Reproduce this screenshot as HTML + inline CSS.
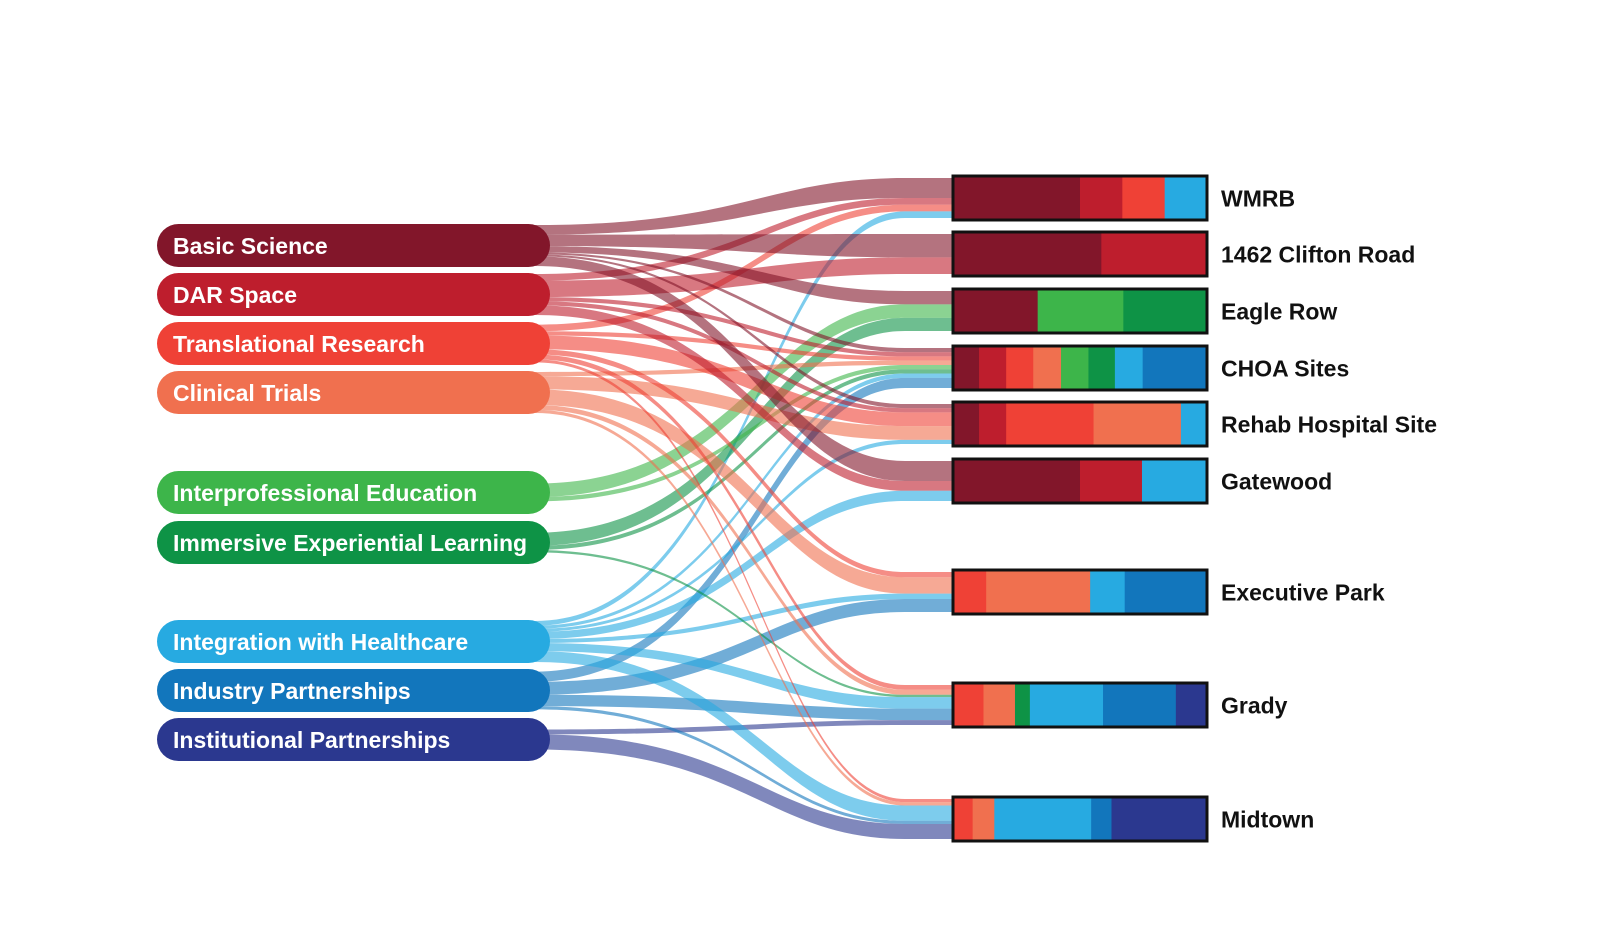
<!DOCTYPE html>
<html><head><meta charset="utf-8"><style>
html,body{margin:0;padding:0;background:#fff;}
svg{display:block;}
text{font-family:"Liberation Sans",sans-serif;font-weight:bold;}
</style></head><body>
<svg id="s" width="1600" height="938" viewBox="0 0 1600 938" xmlns="http://www.w3.org/2000/svg"></svg>
<script>
const NS="http://www.w3.org/2000/svg";
const svg=document.getElementById('s');
function el(t,a,txt){const e=document.createElementNS(NS,t);for(const k in a)e.setAttribute(k,a[k]);if(txt!==undefined)e.textContent=txt;svg.appendChild(e);return e;}
const src=[
["Basic Science","#82162a",224],
["DAR Space","#be1e2d",273],
["Translational Research","#ef4136",322],
["Clinical Trials","#f0704f",371],
["Interprofessional Education","#3db54a",471],
["Immersive Experiential Learning","#0e9346",521],
["Integration with Healthcare","#27aae1",620],
["Industry Partnerships","#1276bc",669],
["Institutional Partnerships","#2b388f",718]];
const PH=43;
const tgt=[
["WMRB",176,[[0,375],[1,125],[2,125],[6,125]]],
["1462 Clifton Road",232,[[0,438],[1,312]]],
["Eagle Row",289,[[0,250],[4,253],[5,247]]],
["CHOA Sites",346,[[0,77],[1,80],[2,80],[3,82],[4,81],[5,78],[6,82],[7,190]]],
["Rehab Hospital Site",402,[[0,77],[1,80],[2,258],[3,258],[6,77]]],
["Gatewood",459,[[0,375],[1,183],[6,192]]],
["Executive Park",570,[[2,98],[3,307],[6,102],[7,243]]],
["Grady",683,[[2,90],[3,93],[5,44],[6,216],[7,215],[8,92]]],
["Midtown",797,[[2,58],[3,64],[6,286],[7,60],[8,282]]]];
const BX=953,BW=254,BH=44,TOT=40,K=TOT/750;
const links=[];
tgt.forEach((t,ti)=>{let y=t[1]+(BH-TOT)/2;t[2].forEach(([si,v])=>{const w=v*K;links.push({si,ti,v,ty:y,tw:w});y+=w;});});
src.forEach((s,si)=>{const ls=links.filter(l=>l.si===si).sort((a,b)=>a.ti-b.ti);let tot=ls.reduce((a,l)=>a+l.tw,0);const h=Math.min(tot,41);const sc=h/tot;let y=s[2]+(PH-h)/2;ls.forEach(l=>{l.sy=y;l.sw=l.tw*sc;y+=l.sw;});});
const X0=535,X1=BX+2;
links.forEach(l=>{
 const c=src[l.si][1];
 const m1=X0+(X1-X0)*0.5, m2=X1-(X1-X0)*0.45;
 const d=`M${X0},${l.sy} C${m1},${l.sy} ${m2},${l.ty} ${X1-50},${l.ty} L${X1},${l.ty} L${X1},${l.ty+l.tw} L${X1-50},${l.ty+l.tw} C${m2},${l.ty+l.tw} ${m1},${l.sy+l.sw} ${X0},${l.sy+l.sw} Z`;
 el('path',{d,fill:c,'fill-opacity':0.6});
});
src.forEach(s=>{
 el('rect',{x:157,y:s[2],width:393,height:PH,rx:21.5,fill:s[1]});
 el('text',{x:173,y:s[2]+PH/2+8.5,fill:'#fff','font-size':23},s[0]);
});
tgt.forEach(t=>{
 const tot=t[2].reduce((a,x)=>a+x[1],0);let x=BX;
 t[2].forEach(([si,v])=>{const w=v/tot*BW;el('rect',{x:x,y:t[1],width:w+0.5,height:BH,fill:src[si][1]});x+=w;});
 el('rect',{x:BX,y:t[1],width:BW,height:BH,fill:'none',stroke:'#111','stroke-width':3});
 el('text',{x:1221,y:t[1]+BH/2+8.5,fill:'#111','font-size':23},t[0]);
});
</script>
</body></html>
